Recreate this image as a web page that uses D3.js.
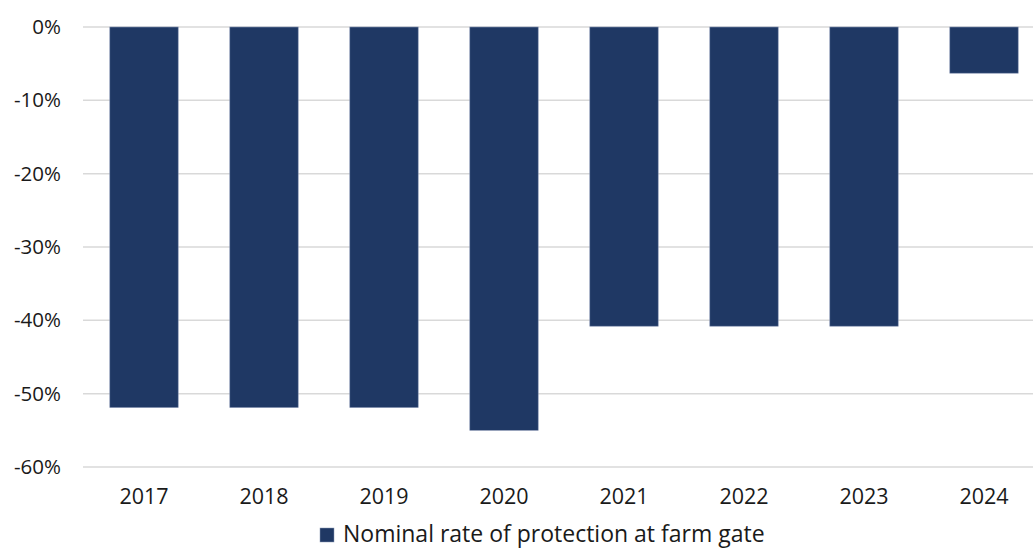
<!DOCTYPE html>
<html>
<head>
<meta charset="utf-8">
<script src="https://cdn.jsdelivr.net/npm/d3@7"></script>
<style>
  html, body { margin: 0; padding: 0; background: #fff; }
  svg { display: block; font-family: "Open Sans", sans-serif; }
</style>
</head>
<body>
<svg id="chart" width="1033" height="548"></svg>
<script>
// Nominal rate of protection at farm gate, by year (%)
const years = ["2017", "2018", "2019", "2020", "2021", "2022", "2023", "2024"];
const nrpValues = [-51.9, -51.9, -51.9, -55.0, -40.8, -40.8, -40.8, -6.3];
const yTicks = [0, -10, -20, -30, -40, -50, -60];
const seriesName = "Nominal rate of protection at farm gate";

const svg = d3.select("#chart");
const margin = { left: 84, top: 27 };
const plotW = 960, plotH = 440;

const x = d3.scaleBand().domain(years).range([margin.left, margin.left + plotW]).paddingInner(0.43).paddingOuter(0.215);
const y = d3.scaleLinear().domain([0, -60]).range([margin.top, margin.top + plotH]);

// Gridlines
svg.append("g")
  .selectAll("line")
  .data(yTicks)
  .join("line")
  .attr("x1", margin.left - 1)
  .attr("x2", 1033)
  .attr("y1", d => y(d))
  .attr("y2", d => y(d))
  .attr("stroke", "#d9d9d9")
  .attr("stroke-width", 1.5);

// Y axis labels
const yAxis = d3.axisLeft(y).tickValues(yTicks).tickFormat(d => d + "%").tickSize(0).tickPadding(0);
svg.append("g")
  .attr("transform", `translate(${61},0)`)
  .call(yAxis)
  .call(g => g.select(".domain").remove())
  .call(g => g.selectAll("text").attr("font-size", 20.5).attr("fill", "#1a1a1a").attr("font-family", "'Open Sans', sans-serif"));

// Bars
svg.append("g")
  .selectAll("rect")
  .data(years.map((yr, i) => ({ yr, v: nrpValues[i] })))
  .join("rect")
  .attr("x", d => x(d.yr))
  .attr("width", x.bandwidth())
  .attr("y", d => y(Math.max(0, d.v)))
  .attr("height", d => Math.abs(y(d.v) - y(0)))
  .attr("fill", "#1f3864")
  .attr("stroke", "#8896b4")
  .attr("stroke-width", 0.6);

// X axis labels
const xAxis = d3.axisBottom(x).tickSize(0).tickPadding(0);
svg.append("g")
  .attr("transform", `translate(0,${489})`)
  .call(xAxis)
  .call(g => g.select(".domain").remove())
  .call(g => g.selectAll("text").attr("font-size", 21.5).attr("fill", "#1a1a1a").attr("font-family", "'Open Sans', sans-serif"));

// Legend (kept fully inside the bottom edge)
const legend = svg.append("g").attr("transform", "translate(320,528)");
legend.append("rect").attr("width", 14).attr("height", 14).attr("fill", "#1f3864").attr("stroke", "#8896b4").attr("stroke-width", 0.5);
legend.append("text").attr("x", 23).attr("y", 14).attr("font-size", 23).attr("fill", "#1a1a1a").text(seriesName);
</script>
</body>
</html>
